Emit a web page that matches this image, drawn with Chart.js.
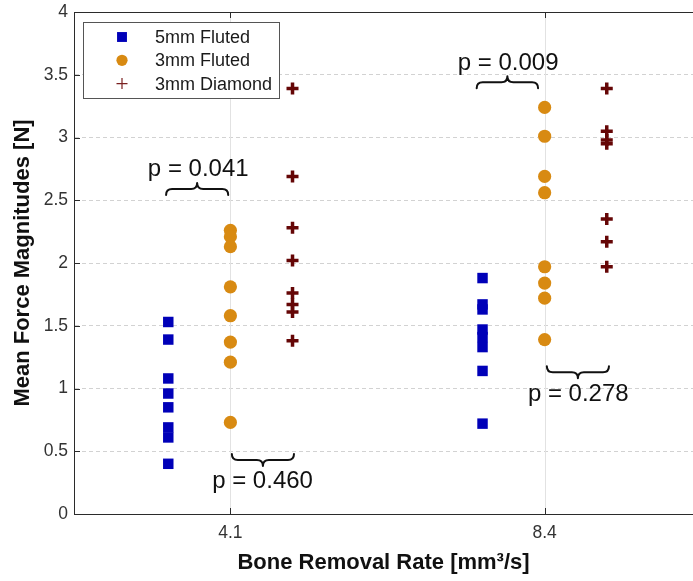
<!DOCTYPE html>
<html><head><meta charset="utf-8">
<script src="https://cdn.jsdelivr.net/npm/chart.js@4/dist/chart.umd.min.js"></script>
<style>html,body{margin:0;padding:0;background:#fff;overflow:hidden}#wrap{width:693px;height:581px;position:relative}</style>
</head><body><div id="wrap"><canvas id="c" width="693" height="581"></canvas></div>
<script>
// ---- data ----
const categories = [4.1, 8.4];
const xTickLabels = ['4.1', '8.4'];
const yTickValues = [0, 0.5, 1, 1.5, 2, 2.5, 3, 3.5, 4];
const yTickLabels = ['0', '0.5', '1', '1.5', '2', '2.5', '3', '3.5', '4'];
const seriesNames = ['5mm Fluted', '3mm Fluted', '3mm Diamond'];
const fluted5Low  = [1.53, 1.39, 1.08, 0.96, 0.85, 0.69, 0.61, 0.40];
const fluted5High = [1.88, 1.67, 1.63, 1.47, 1.41, 1.33, 1.14, 0.72];
const fluted3Low  = [2.26, 2.21, 2.13, 1.81, 1.58, 1.37, 1.21, 0.73];
const fluted3High = [3.24, 3.01, 2.69, 2.56, 1.97, 1.84, 1.72, 1.39];
const diamondLow  = [3.39, 2.69, 2.28, 2.02, 1.76, 1.67, 1.61, 1.38];
const diamondHigh = [3.39, 3.05, 2.98, 2.95, 2.35, 2.17, 1.97];
const pLabels   = ['p = 0.041', 'p = 0.460', 'p = 0.009', 'p = 0.278'];
const braceFrom = [3.22, 4.12, 7.47, 8.43];
const braceTo   = [4.07, 4.97, 8.31, 9.28];
const braceY    = [2.59, 0.43, 3.44, 1.13];
const braceTipUp = [true, false, true, false];
const pTextX    = [3.66, 4.54, 7.90, 8.86];
const pTextY    = [2.69, 0.21, 3.54, 0.90];

const FONT = "'Liberation Sans', Arial, Helvetica, sans-serif";
const groupOffset = 0.85;
const pts = (vals, cat, off) => vals.map(v => ({x: cat + off, y: v}));

const colors = ['#0000B8', '#D88A12', '#650606'];

const datasets = [
  {label: seriesNames[0], data: [...pts(fluted5Low, categories[0], -groupOffset), ...pts(fluted5High, categories[1], -groupOffset)],
   pointStyle: 'rect', pointRadius: 7.4, backgroundColor: colors[0], borderWidth: 0},
  {label: seriesNames[1], data: [...pts(fluted3Low, categories[0], 0), ...pts(fluted3High, categories[1], 0)],
   pointStyle: 'circle', pointRadius: 6.6, backgroundColor: colors[1], borderWidth: 0},
  {label: seriesNames[2], data: [...pts(diamondLow, categories[0], groupOffset), ...pts(diamondHigh, categories[1], groupOffset)],
   pointStyle: 'cross', pointRadius: 6, borderColor: colors[2], backgroundColor: colors[2], borderWidth: 3.5}
];

const framePlugin = {
  id: 'frame',
  beforeDatasetsDraw(chart) {
    const {ctx, chartArea: ca, scales: {x, y}} = chart;
    ctx.save();
    ctx.strokeStyle = '#e2e2e2';
    ctx.lineWidth = 1;
    ctx.beginPath();
    x.ticks.forEach(t => {
      const px = Math.round(x.getPixelForValue(t.value)) + 0.5;
      ctx.moveTo(px, ca.top); ctx.lineTo(px, ca.bottom);
    });
    ctx.stroke();
    ctx.strokeStyle = '#2b2b2b';
    ctx.beginPath();
    ctx.moveTo(ca.left, Math.round(ca.top) + 0.5); ctx.lineTo(ca.right + 2, Math.round(ca.top) + 0.5);
    x.ticks.forEach(t => {
      const px = Math.round(x.getPixelForValue(t.value)) + 0.5;
      ctx.moveTo(px, ca.bottom); ctx.lineTo(px, ca.bottom - 6);
      ctx.moveTo(px, ca.top); ctx.lineTo(px, ca.top + 6);
    });
    y.ticks.forEach(t => {
      const py = Math.round(y.getPixelForValue(t.value)) + 0.5;
      ctx.moveTo(ca.left, py); ctx.lineTo(ca.left + 6, py);
    });
    ctx.stroke();
    ctx.restore();
  }
};

function drawBrace(ctx, x1, x2, ym, up) {
  const h = 6, r = 6;
  const d = up ? 1 : -1;
  const yEnd = ym + d * h, yTip = ym - d * h;
  const xm = (x1 + x2) / 2;
  ctx.beginPath();
  ctx.moveTo(x1, yEnd);
  ctx.quadraticCurveTo(x1, ym, x1 + r, ym);
  ctx.lineTo(xm - r, ym);
  ctx.quadraticCurveTo(xm, ym, xm, yTip);
  ctx.quadraticCurveTo(xm, ym, xm + r, ym);
  ctx.lineTo(x2 - r, ym);
  ctx.quadraticCurveTo(x2, ym, x2, yEnd);
  ctx.stroke();
}

const annotPlugin = {
  id: 'annot',
  afterDatasetsDraw(chart) {
    const {ctx, scales: {x, y}} = chart;
    ctx.save();
    ctx.strokeStyle = '#111';
    ctx.lineWidth = 2;
    ctx.lineCap = 'round';
    ctx.lineJoin = 'round';
    ctx.fillStyle = '#111';
    ctx.font = '24px ' + FONT;
    ctx.textAlign = 'center';
    ctx.textBaseline = 'alphabetic';
    pLabels.forEach((lab, i) => {
      drawBrace(ctx, x.getPixelForValue(braceFrom[i]), x.getPixelForValue(braceTo[i]), y.getPixelForValue(braceY[i]), braceTipUp[i]);
      ctx.fillText(lab, x.getPixelForValue(pTextX[i]), y.getPixelForValue(pTextY[i]));
    });
    ctx.restore();
  }
};

const legendPlugin = {
  id: 'boxLegend',
  afterDraw(chart) {
    const {ctx, chartArea: ca} = chart;
    const bx = ca.left + 9, by = ca.top + 10, bw = 196, bh = 76;
    ctx.save();
    ctx.fillStyle = '#fff';
    ctx.fillRect(bx, by, bw, bh);
    ctx.strokeStyle = '#555';
    ctx.lineWidth = 1;
    ctx.strokeRect(bx + 0.5, by + 0.5, bw, bh);
    const styles = [
      {pointStyle: 'rect', radius: 7, borderWidth: 0, fill: colors[0]},
      {pointStyle: 'circle', radius: 5.6, borderWidth: 0, fill: colors[1]},
      {pointStyle: 'cross', radius: 5.5, borderWidth: 1.2, stroke: '#7a2020'}
    ];
    chart.data.datasets.forEach((ds, i) => {
      const cy = by + 15 + i * 23.3;
      const s = styles[i];
      ctx.fillStyle = s.fill || s.stroke;
      ctx.strokeStyle = s.stroke || s.fill;
      ctx.lineWidth = s.borderWidth;
      Chart.helpers.drawPoint(ctx, {pointStyle: s.pointStyle, radius: s.radius, borderWidth: s.borderWidth, rotation: 0}, bx + 39, cy);
      ctx.fillStyle = '#1a1a1a';
      ctx.font = '18px ' + FONT;
      ctx.textAlign = 'left';
      ctx.textBaseline = 'middle';
      ctx.fillText(ds.label, bx + 72, cy + 1);
    });
    ctx.restore();
  }
};

new Chart(document.getElementById('c'), {
  type: 'scatter',
  data: {datasets},
  options: {
    responsive: false,
    animation: false,
    layout: {autoPadding: false, padding: {top: 12, right: 0, left: 0, bottom: 0}},
    plugins: {legend: {display: false}, tooltip: {enabled: false}},
    scales: {
      x: {
        type: 'linear', min: 1.96, max: 10.43,
        afterBuildTicks: s => { s.ticks = categories.map(v => ({value: v})); },
        afterFit: s => { s.height = 67; },
        ticks: {
          callback: v => xTickLabels[categories.indexOf(v)],
          font: {size: 17.5, family: FONT}, color: '#333', padding: 1, maxRotation: 0, autoSkip: false
        },
        grid: {display: false},
        border: {color: '#2b2b2b', width: 1},
        title: {display: true, text: 'Bone Removal Rate [mm³/s]', color: '#111',
          font: {size: 22, weight: 'bold', family: FONT}, padding: {top: 0, bottom: 5}}
      },
      y: {
        type: 'linear', min: 0, max: 4,
        afterBuildTicks: s => { s.ticks = yTickValues.map(v => ({value: v})); },
        afterFit: s => { s.width = 74; },
        ticks: {
          callback: v => yTickLabels[yTickValues.indexOf(v)],
          font: {size: 17.5, family: FONT}, color: '#333', padding: 0
        },
        grid: {
          color: c => (c.tick && (c.tick.value === 0 || c.tick.value === 4)) ? 'rgba(0,0,0,0)' : '#d2d2d2',
          lineWidth: 1, drawTicks: true, tickLength: 6, tickColor: 'rgba(0,0,0,0)'
        },
        border: {color: '#2b2b2b', width: 1, dash: [4, 3]},
        title: {display: true, text: 'Mean Force Magnitudes [N]', color: '#111',
          font: {size: 22, weight: 'bold', family: FONT}, padding: {top: 10, bottom: 0}}
      }
    }
  },
  plugins: [framePlugin, annotPlugin, legendPlugin]
});
</script>
</body></html>
